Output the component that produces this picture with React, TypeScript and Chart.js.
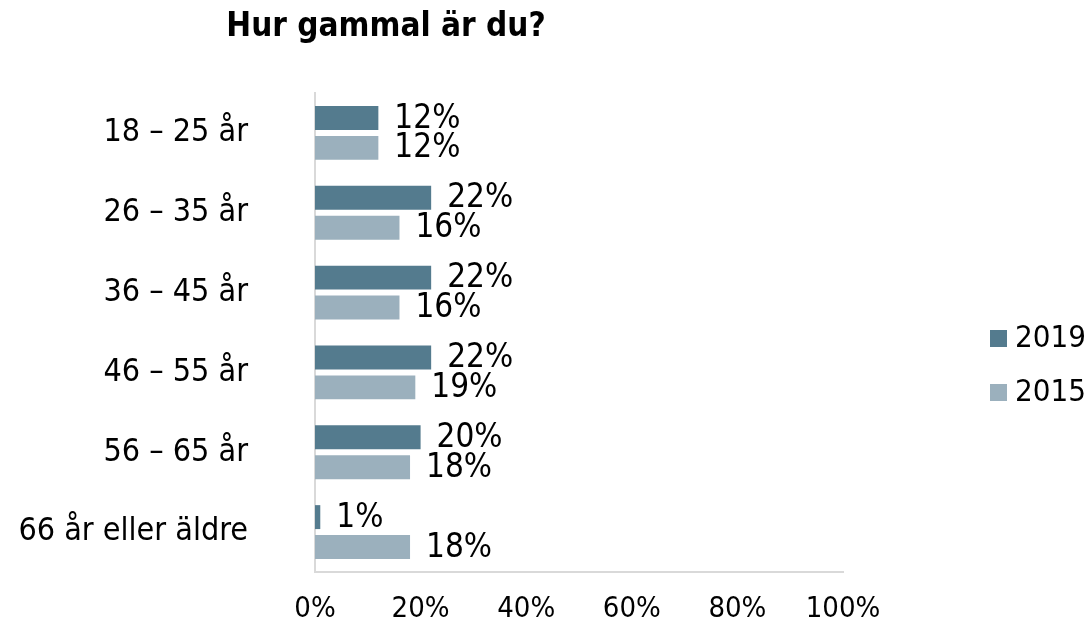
import React, { useEffect, useRef } from "react";
import { Chart, registerables } from "chart.js";

Chart.register(...registerables);

const title = "Hur gammal är du?";
const categories = ["18 – 25 år", "26 – 35 år", "36 – 45 år", "46 – 55 år", "56 – 65 år", "66 år eller äldre"];
const series2019 = [12, 22, 22, 22, 20, 1];
const series2015 = [12, 16, 16, 19, 18, 18];
const seriesNames = ["2019", "2015"];
const xTicks = [0, 20, 40, 60, 80, 100];

const FONT = "'DejaVu Sans Condensed', 'DejaVu Sans', sans-serif";
const DARK = "#547b8e";
const LIGHT = "#9bb0bd";

const overlay = {
  id: "overlay",
  afterDatasetsDraw(chart: any) {
    const ctx = chart.ctx;
    ctx.save();
    // data labels
    ctx.font = `33px ${FONT}`;
    ctx.fillStyle = "#000";
    ctx.textBaseline = "middle";
    ctx.textAlign = "left";
    chart.data.datasets.forEach((ds: any, di: number) => {
      const meta = chart.getDatasetMeta(di);
      meta.data.forEach((bar: any, i: number) => {
        ctx.fillText(ds.data[i] + "%", bar.x + 16, bar.y + 1);
      });
    });
    // title
    ctx.font = `bold 33px ${FONT}`;
    ctx.textAlign = "center";
    ctx.fillText(title, 386, 27);
    // legend
    const items = [
      { label: seriesNames[0], color: DARK, y: 338 },
      { label: seriesNames[1], color: LIGHT, y: 392 },
    ];
    ctx.font = `31px ${FONT}`;
    ctx.textAlign = "left";
    items.forEach((it) => {
      ctx.fillStyle = it.color;
      ctx.fillRect(990, it.y - 8, 17, 17);
      ctx.fillStyle = "#000";
      ctx.fillText(it.label, 1015, it.y + 1);
    });
    ctx.restore();
  },
};

export default function App() {
  const ref = useRef<HTMLCanvasElement>(null);
  useEffect(() => {
    document.body.style.margin = "0";
    const chart = new Chart(ref.current!, {
      type: "bar",
      data: {
        labels: categories,
        datasets: [
          { label: seriesNames[0], data: series2019, backgroundColor: DARK, categoryPercentage: 0.75, barPercentage: 0.8 },
          { label: seriesNames[1], data: series2015, backgroundColor: LIGHT, categoryPercentage: 0.75, barPercentage: 0.8 },
        ],
      },
      options: {
        indexAxis: "y",
        animation: false,
        responsive: false,
        layout: { padding: { top: 93, right: 248, left: 0, bottom: 0 } },
        plugins: { legend: { display: false }, title: { display: false }, tooltip: { enabled: false } },
        scales: {
          x: {
            min: 0,
            max: 100,
            afterBuildTicks: (s: any) => { s.ticks = xTicks.map((v) => ({ value: v })); },
            afterFit: (s: any) => { s.height = 48; },
            grid: { display: false },
            border: { display: true, color: "#d9d9d9", width: 2 },
            ticks: { padding: 12, color: "#000", font: { family: FONT, size: 29 }, callback: (v: any) => v + "%" },
          },
          y: {
            afterFit: (s: any) => { s.width = 315; },
            grid: { display: true, drawOnChartArea: false, drawTicks: true, tickLength: 67, tickColor: "rgba(0,0,0,0)" },
            border: { display: true, color: "#d9d9d9", width: 2 },
            ticks: { padding: 0, color: "#000", font: { family: FONT, size: 32 } },
          },
        },
      },
      plugins: [overlay],
    });
    return () => chart.destroy();
  }, []);
  return <canvas ref={ref} width={1091} height={620} style={{ display: "block" }} />;
}
